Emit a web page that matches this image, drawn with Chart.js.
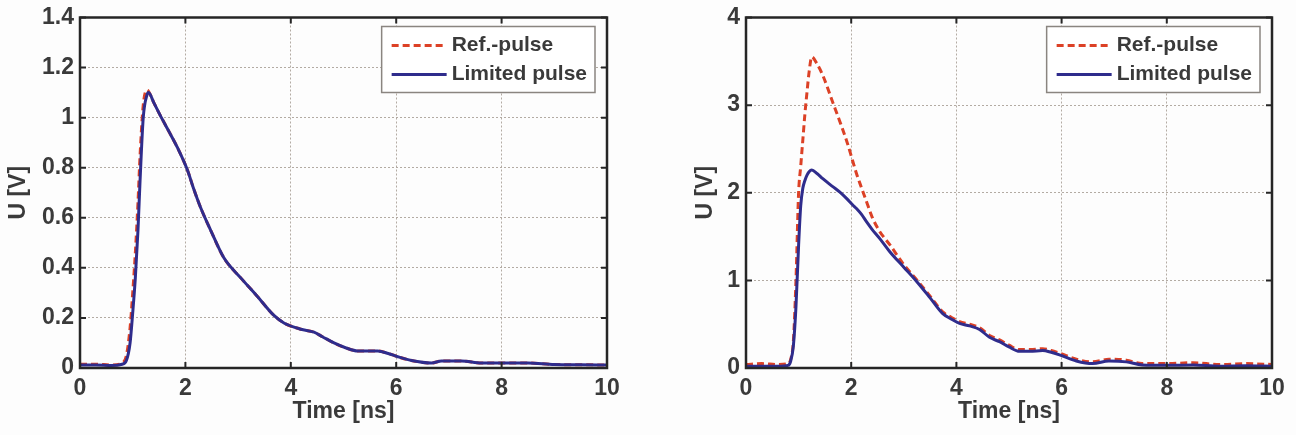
<!DOCTYPE html>
<html>
<head>
<meta charset="utf-8">
<script src="https://cdn.jsdelivr.net/npm/chart.js@4.4.1/dist/chart.umd.min.js"></script>
<style>
  html, body { margin: 0; padding: 0; background: #fdfdfd; }
  #gauche { position: absolute; left: 0; top: 0; }
  #droite { position: absolute; left: 660px; top: 0; }
</style>
</head>
<body>
<canvas id="gauche" width="640" height="435"></canvas>
<canvas id="droite" width="636" height="435"></canvas>
<script>
// Impulsion faible (graphique de gauche) : temps en ns, tension en V
var tempsGauche = [0, 0.3, 0.6, 0.8, 0.88, 0.95, 1.0, 1.05, 1.1, 1.14, 1.2, 1.27, 1.3, 1.4, 1.52, 1.7, 1.85, 2.04, 2.15, 2.29, 2.48, 2.73, 3.05, 3.35, 3.68, 3.87, 4.19, 4.44, 4.6, 4.82, 5.05, 5.27, 5.65, 5.85, 6.03, 6.29, 6.67, 6.86, 7.24, 7.62, 8.0, 8.5, 9.0, 9.5, 10];
var refGauche = [0.015, 0.015, 0.012, 0.02, 0.05, 0.16, 0.3, 0.46, 0.66, 0.85, 1.05, 1.11, 1.105, 1.06, 1.01, 0.94, 0.88, 0.79, 0.72, 0.64, 0.55, 0.44, 0.36, 0.29, 0.21, 0.18, 0.155, 0.143, 0.125, 0.1, 0.08, 0.068, 0.068, 0.058, 0.045, 0.03, 0.02, 0.028, 0.028, 0.02, 0.02, 0.02, 0.014, 0.013, 0.012];
var limGauche = [0.012, 0.012, 0.01, 0.015, 0.03, 0.1, 0.22, 0.36, 0.55, 0.75, 1.0, 1.09, 1.1, 1.06, 1.01, 0.94, 0.88, 0.79, 0.72, 0.64, 0.55, 0.44, 0.36, 0.29, 0.21, 0.18, 0.155, 0.143, 0.125, 0.1, 0.08, 0.068, 0.068, 0.058, 0.045, 0.03, 0.02, 0.028, 0.028, 0.02, 0.02, 0.02, 0.014, 0.013, 0.012];

// Impulsion forte (graphique de droite)
var tempsDroite = [0, 0.3, 0.6, 0.8, 0.85, 0.9, 0.95, 1.0, 1.04, 1.08, 1.12, 1.16, 1.2, 1.25, 1.35, 1.46, 1.65, 1.78, 1.92, 2.03, 2.1, 2.2, 2.29, 2.4, 2.54, 2.73, 3.0, 3.24, 3.5, 3.74, 3.9, 4.06, 4.25, 4.44, 4.63, 4.82, 5.0, 5.2, 5.4, 5.64, 5.8, 5.96, 6.28, 6.59, 6.9, 7.23, 7.53, 8.0, 8.5, 9.0, 9.5, 10];
var refDroite = [0.04, 0.05, 0.04, 0.05, 0.1, 0.3, 1.0, 2.0, 2.3, 2.6, 2.9, 3.15, 3.38, 3.55, 3.47, 3.34, 3.03, 2.82, 2.58, 2.36, 2.22, 2.05, 1.9, 1.72, 1.56, 1.41, 1.18, 1.01, 0.82, 0.64, 0.58, 0.53, 0.5, 0.46, 0.37, 0.32, 0.26, 0.21, 0.21, 0.22, 0.2, 0.17, 0.1, 0.07, 0.1, 0.09, 0.05, 0.05, 0.06, 0.04, 0.05, 0.04];
var limDroite = [0.02, 0.02, 0.02, 0.03, 0.08, 0.25, 0.7, 1.4, 1.85, 2.05, 2.14, 2.2, 2.24, 2.26, 2.22, 2.16, 2.07, 2.01, 1.93, 1.86, 1.82, 1.75, 1.67, 1.58, 1.48, 1.33, 1.15, 0.99, 0.8, 0.62, 0.56, 0.51, 0.48, 0.44, 0.35, 0.3, 0.24, 0.19, 0.19, 0.2, 0.18, 0.15, 0.08, 0.05, 0.08, 0.07, 0.035, 0.03, 0.035, 0.02, 0.025, 0.02];

// Graduations des axes
var ticksX = [0, 2, 4, 6, 8, 10];
var ticksYGauche = [0, 0.2, 0.4, 0.6, 0.8, 1, 1.2, 1.4];
var ticksYDroite = [0, 1, 2, 3, 4];
var nomsSeries = ['Ref.-pulse', 'Limited pulse'];

var rouge = '#dc4126';
var bleu = '#2f2c8c';
var couleurTexte = '#3a3a3a';
var couleurGrille = '#b3aba3';
var couleurCadre = '#262626';
var police = { family: "'Liberation Sans', Arial, sans-serif", size: 23, weight: 'bold', lineHeight: 1 };
var policeLegende = { family: "'Liberation Sans', Arial, sans-serif", size: 21, weight: 'bold', lineHeight: 1 };

// Transforme deux tableaux en points {x, y}
function points(temps, valeurs) {
    var res = [];
    for (var i = 0; i < temps.length; i++) {
        res.push({ x: temps[i], y: valeurs[i] });
    }
    return res;
}

// Cadre façon MATLAB : boîte, graduations vers l'intérieur et légende encadrée
var cadre = {
    id: 'cadre',
    afterDatasetsDraw: function (chart) {
        var ctx = chart.ctx;
        var a = chart.chartArea;
        var sx = chart.scales.x, sy = chart.scales.y;
        ctx.save();
        ctx.strokeStyle = couleurCadre;
        ctx.lineWidth = 2;
        sx.ticks.forEach(function (t) {
            var x = sx.getPixelForValue(t.value);
            ctx.beginPath();
            ctx.moveTo(x, a.bottom); ctx.lineTo(x, a.bottom - 6);
            ctx.moveTo(x, a.top); ctx.lineTo(x, a.top + 6);
            ctx.stroke();
        });
        sy.ticks.forEach(function (t) {
            var y = sy.getPixelForValue(t.value);
            ctx.beginPath();
            ctx.moveTo(a.left, y); ctx.lineTo(a.left + 6, y);
            ctx.moveTo(a.right, y); ctx.lineTo(a.right - 6, y);
            ctx.stroke();
        });
        ctx.lineWidth = 2.5;
        ctx.strokeRect(a.left, a.top, a.right - a.left, a.bottom - a.top);

        // légende
        ctx.font = policeLegende.weight + ' ' + policeLegende.size + 'px ' + policeLegende.family;
        var largeurTexte = 0;
        chart.data.datasets.forEach(function (d) {
            largeurTexte = Math.max(largeurTexte, ctx.measureText(d.label).width);
        });
        var largeur = 10 + 55 + 5 + largeurTexte + 8;
        var hauteur = 66;
        var bx = a.right - 12 - largeur;
        var by = a.top + 9;
        ctx.fillStyle = '#ffffff';
        ctx.fillRect(bx, by, largeur, hauteur);
        ctx.strokeStyle = '#8a8580';
        ctx.lineWidth = 1.5;
        ctx.strokeRect(bx, by, largeur, hauteur);
        chart.data.datasets.forEach(function (d, i) {
            var ly = by + 19 + i * 29;
            ctx.beginPath();
            ctx.setLineDash(d.borderDash || []);
            ctx.strokeStyle = d.borderColor;
            ctx.lineWidth = d.borderWidth;
            ctx.moveTo(bx + 10, ly);
            ctx.lineTo(bx + 65, ly);
            ctx.stroke();
            ctx.setLineDash([]);
            ctx.fillStyle = couleurTexte;
            ctx.textBaseline = 'middle';
            ctx.textAlign = 'left';
            ctx.fillText(d.label, bx + 70, ly);
        });
        ctx.restore();
    }
};

function creerGraphique(id, temps, ref, lim, ticksY, yMax, largeurY, margeDroite, decalageTitreY) {
    return new Chart(document.getElementById(id), {
        type: 'line',
        data: {
            datasets: [
                { label: nomsSeries[0], data: points(temps, ref), borderColor: rouge, borderWidth: 3, borderDash: [7, 4],
                  pointRadius: 0, cubicInterpolationMode: 'monotone', order: 2 },
                { label: nomsSeries[1], data: points(temps, lim), borderColor: bleu, borderWidth: 3,
                  pointRadius: 0, cubicInterpolationMode: 'monotone', order: 1 }
            ]
        },
        options: {
            responsive: false,
            animation: false,
            layout: { padding: { left: 0, top: 15, right: margeDroite, bottom: 0 } },
            plugins: { legend: { display: false }, tooltip: { enabled: false } },
            scales: {
                x: {
                    type: 'linear', min: 0, max: 10,
                    afterBuildTicks: function (axe) { axe.ticks = ticksX.map(function (v) { return { value: v }; }); },
                    afterFit: function (axe) { axe.height = 67; },
                    grid: { color: couleurGrille, drawTicks: false },
                    border: { display: false, dash: [2, 2] },
                    ticks: { color: couleurTexte, font: police, padding: 9, maxRotation: 0,
                             callback: function (v) { return String(v); } },
                    title: { display: true, text: 'Time [ns]', color: couleurTexte, font: police,
                             padding: { top: 0, bottom: 12 } }
                },
                y: {
                    min: 0, max: yMax,
                    afterBuildTicks: function (axe) { axe.ticks = ticksY.map(function (v) { return { value: v }; }); },
                    afterFit: function (axe) { axe.width = largeurY; },
                    grid: { color: couleurGrille, drawTicks: false },
                    border: { display: false, dash: [2, 2] },
                    ticks: { color: couleurTexte, font: police, padding: 6,
                             callback: function (v) { return String(v); } },
                    title: { display: true, text: 'U [V]', color: couleurTexte, font: police,
                             padding: { top: decalageTitreY, bottom: 0 } }
                }
            }
        },
        plugins: [cadre]
    });
}

creerGraphique('gauche', tempsGauche, refGauche, limGauche, ticksYGauche, 1.4, 80, 33, 7);
creerGraphique('droite', tempsDroite, refDroite, limDroite, ticksYDroite, 4, 86, 24, 34);
</script>
</body>
</html>
